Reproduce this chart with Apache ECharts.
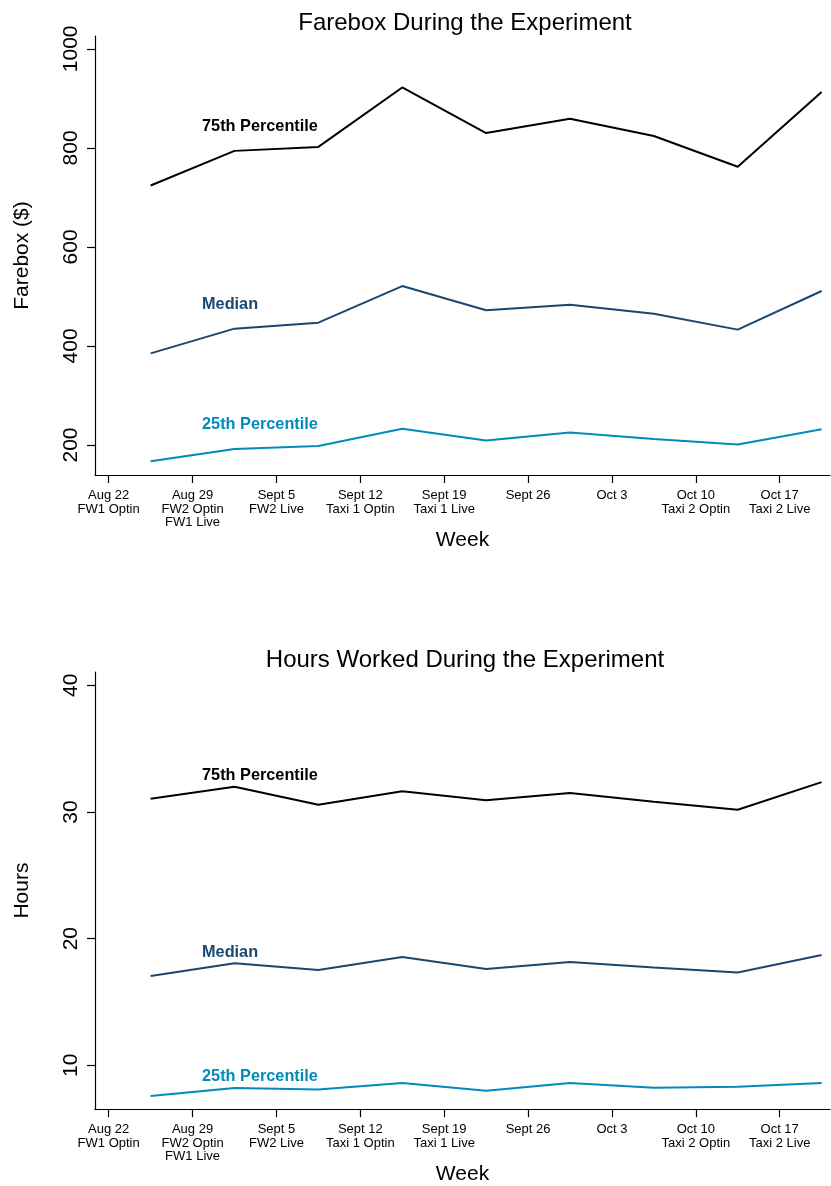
<!DOCTYPE html>
<html>
<head>
<meta charset="utf-8">
<script src="https://cdn.jsdelivr.net/npm/echarts@6/dist/echarts.min.js"></script>
<style>
html,body{margin:0;padding:0;background:#fff;}
#chart{width:831px;height:1186px;}
</style>
</head>
<body>
<div id="chart"></div>
<script>
// ---- data ----
const weekTickValues = [0, 1, 2, 3, 4, 5, 6, 7, 8];
const weekTickLabels = ['Aug 22\nFW1 Optin', 'Aug 29\nFW2 Optin\nFW1 Live', 'Sept 5\nFW2 Live', 'Sept 12\nTaxi 1 Optin', 'Sept 19\nTaxi 1 Live', 'Sept 26', 'Oct 3', 'Oct 10\nTaxi 2 Optin', 'Oct 17\nTaxi 2 Live'];
const weekPoints = [0.5, 1.5, 2.5, 3.5, 4.5, 5.5, 6.5, 7.5, 8.5];

const fare75 = [724, 794, 802, 922, 830, 859, 824, 762, 913];
const fareMed = [385, 435, 447, 521, 472, 483, 465, 433, 511];
const fare25 = [167, 192, 198, 233, 209, 225, 212, 201, 232];
const fareTicks = [200, 400, 600, 800, 1000];

const hrs75 = [31.05, 31.99, 30.57, 31.63, 30.92, 31.49, 30.81, 30.18, 32.36];
const hrsMed = [17.06, 18.06, 17.53, 18.55, 17.61, 18.16, 17.72, 17.33, 18.71];
const hrs25 = [7.59, 8.22, 8.09, 8.61, 8.00, 8.61, 8.24, 8.32, 8.61];
const hrsTicks = [10, 20, 30, 40];

const seriesNames = ['75th Percentile', 'Median', '25th Percentile'];
const seriesColors = ['#000000', '#1a476f', '#008bbc'];

// ---- chart ----
const FONT = "'Liberation Sans', Arial, Helvetica, sans-serif";
const chart = echarts.init(document.getElementById('chart'), null, {renderer: 'canvas'});

function pairs(xs, ys) { return xs.map((x, i) => [x, ys[i]]); }

function xAxisFor(gi) {
  return {
    type: 'value', gridIndex: gi, min: -0.163, max: 8.6,
    name: 'Week', nameLocation: 'middle', nameGap: 50,
    nameTextStyle: {fontFamily: FONT, fontSize: 21, color: '#000'},
    axisLine: {show: true, onZero: false, lineStyle: {color: '#000', width: 1.2}},
    axisTick: {show: true, length: 8, lineStyle: {color: '#000', width: 1.2}, customValues: weekTickValues},
    axisLabel: {
      show: true, margin: 14, fontFamily: FONT, fontSize: 13, lineHeight: 13.3, color: '#000',
      customValues: weekTickValues,
      formatter: v => weekTickLabels[weekTickValues.indexOf(Math.round(v))] || ''
    },
    splitLine: {show: false}
  };
}

function yAxisFor(gi, min, max, ticks, title) {
  return {
    type: 'value', gridIndex: gi, min: min, max: max,
    name: title, nameLocation: 'middle', nameGap: 62, nameRotate: 90,
    nameTextStyle: {fontFamily: FONT, fontSize: 21, color: '#000'},
    axisLine: {show: true, onZero: false, lineStyle: {color: '#000', width: 1.2}},
    axisTick: {show: true, length: 8, lineStyle: {color: '#000', width: 1.2}, customValues: ticks},
    axisLabel: {show: true, rotate: 90, margin: 13, fontFamily: FONT, fontSize: 21, color: '#000',
      customValues: ticks, formatter: v => String(Math.round(v))},
    splitLine: {show: false}
  };
}

function lineSeries(gi, ys, idx, labelCoord) {
  return {
    type: 'line', xAxisIndex: gi, yAxisIndex: gi,
    name: seriesNames[idx],
    data: pairs(weekPoints, ys),
    showSymbol: false, symbol: 'none', smooth: false,
    lineStyle: {color: seriesColors[idx], width: 2},
    itemStyle: {color: seriesColors[idx]},
    silent: true, animation: false,
    markPoint: {
      symbol: 'circle', symbolSize: 0, silent: true, animation: false,
      data: [{coord: labelCoord, value: seriesNames[idx]}],
      label: {
        show: true, position: 'right', distance: 0,
        formatter: seriesNames[idx],
        fontFamily: FONT, fontSize: 16.3, fontWeight: 'bold', color: seriesColors[idx]
      }
    }
  };
}

const option = {
  backgroundColor: '#fff',
  animation: false,
  title: [
    {text: 'Farebox During the Experiment', left: 460, top: 18, textAlign: 'center', textVerticalAlign: 'middle',
     textStyle: {fontFamily: FONT, fontSize: 24, fontWeight: 'normal', color: '#000'}},
    {text: 'Hours Worked During the Experiment', left: 460, top: 655, textAlign: 'center', textVerticalAlign: 'middle',
     textStyle: {fontFamily: FONT, fontSize: 24, fontWeight: 'normal', color: '#000'}}
  ],
  grid: [
    {left: 95, top: 36, width: 735, height: 439, containLabel: false},
    {left: 95, top: 672, width: 735, height: 439, containLabel: false}
  ],
  xAxis: [xAxisFor(0), xAxisFor(1)],
  yAxis: [
    yAxisFor(0, 139.4, 1026, fareTicks, 'Farebox ($)'),
    yAxisFor(1, 6.54, 41.05, hrsTicks, 'Hours')
  ],
  series: [
    lineSeries(0, fare75, 0, [1.113, 842.6]),
    lineSeries(0, fareMed, 1, [1.113, 483.3]),
    lineSeries(0, fare25, 2, [1.113, 241]),
    lineSeries(1, hrs75, 0, [1.113, 32.9]),
    lineSeries(1, hrsMed, 1, [1.113, 18.92]),
    lineSeries(1, hrs25, 2, [1.113, 9.14])
  ]
};
chart.setOption(option);
</script>
</body>
</html>
